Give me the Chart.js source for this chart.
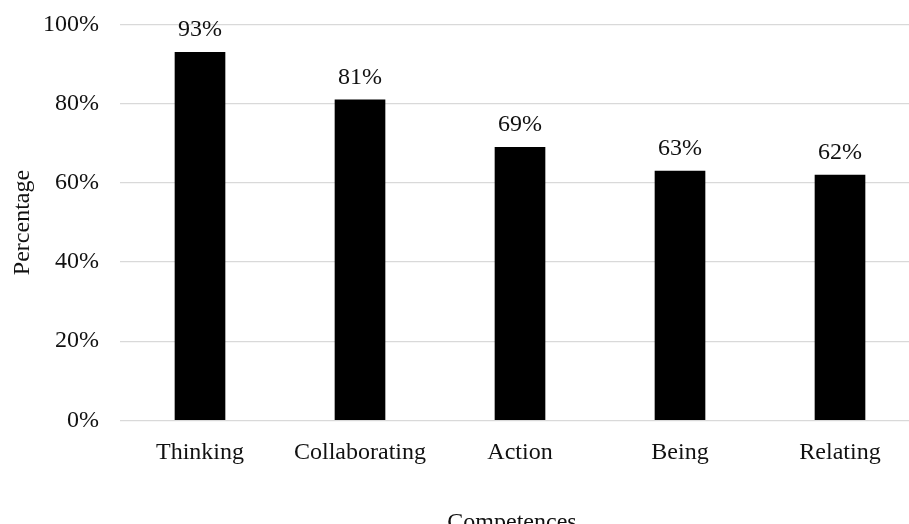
<!DOCTYPE html>
<html>
<head>
<meta charset="utf-8">
<script src="https://cdn.jsdelivr.net/npm/chart.js@4/dist/chart.umd.min.js"></script>
<style>
  html, body { margin: 0; padding: 0; background: #fff; overflow: hidden; }
  #wrap { width: 930px; height: 540px; position: relative; }
</style>
</head>
<body>
<div id="wrap"><canvas id="chart"></canvas></div>
<script>
// Share of respondents per competence area
const categories = ['Thinking', 'Collaborating', 'Action', 'Being', 'Relating'];
const percentages = [93, 81, 69, 63, 62];
const yTicks = [0, 20, 40, 60, 80, 100];
const xTitle = 'Competences';
const yTitle = 'Percentage';

const FONT = '"Liberation Serif", "Times New Roman", serif';
const TEXT = '#111111';

// Value labels above each bar
const valueLabels = {
  id: 'valueLabels',
  afterDatasetsDraw(chart) {
    const ctx = chart.ctx;
    const meta = chart.getDatasetMeta(0);
    ctx.save();
    ctx.font = '24px ' + FONT;
    ctx.fillStyle = TEXT;
    ctx.textAlign = 'center';
    ctx.textBaseline = 'alphabetic';
    meta.data.forEach((bar, i) => {
      ctx.fillText(percentages[i] + '%', bar.x, bar.y - 16);
    });
    ctx.restore();
  }
};

// Category axis title, placed under the tick labels
const axisTitleX = {
  id: 'axisTitleX',
  afterDraw(chart) {
    const ctx = chart.ctx;
    ctx.save();
    ctx.font = '24px ' + FONT;
    ctx.fillStyle = TEXT;
    ctx.textAlign = 'center';
    ctx.textBaseline = 'alphabetic';
    ctx.fillText(xTitle, chart.chartArea.left + 392, 529);
    ctx.restore();
  }
};

new Chart(document.getElementById('chart'), {
  type: 'bar',
  data: {
    labels: categories,
    datasets: [{
      data: percentages,
      backgroundColor: '#000000',
      borderWidth: 0,
      barThickness: 50
    }]
  },
  options: {
    responsive: true,
    maintainAspectRatio: false,
    animation: false,
    layout: { padding: { top: 24.7, right: 10, bottom: 0, left: 0 } },
    plugins: {
      legend: { display: false },
      tooltip: { enabled: false }
    },
    scales: {
      x: {
        offset: true,
        grid: { display: false },
        border: { display: false },
        ticks: {
          color: TEXT,
          font: { family: FONT, size: 24 },
          padding: 10,
          maxRotation: 0,
          autoSkip: false
        },
        afterFit(scale) {
          scale.height = 540 - 420.3;
          scale.paddingLeft = 0;
          scale.paddingRight = 0;
        }
      },
      y: {
        min: 0,
        max: 100,
        afterBuildTicks(scale) { scale.ticks = yTicks.map(v => ({ value: v })); },
        grid: { color: '#d9d9d9', lineWidth: 1.3, drawTicks: false },
        border: { display: false },
        ticks: {
          color: TEXT,
          font: { family: FONT, size: 24 },
          padding: 21,
          callback: v => v + '%'
        },
        title: {
          display: true,
          text: yTitle,
          color: TEXT,
          font: { family: FONT, size: 24 },
          padding: { top: 8.6, bottom: 0 }
        },
        afterFit(scale) {
          scale.width = 120;
          scale.paddingTop = 0;
          scale.paddingBottom = 0;
        }
      }
    }
  },
  plugins: [valueLabels, axisTitleX]
});
</script>
</body>
</html>
